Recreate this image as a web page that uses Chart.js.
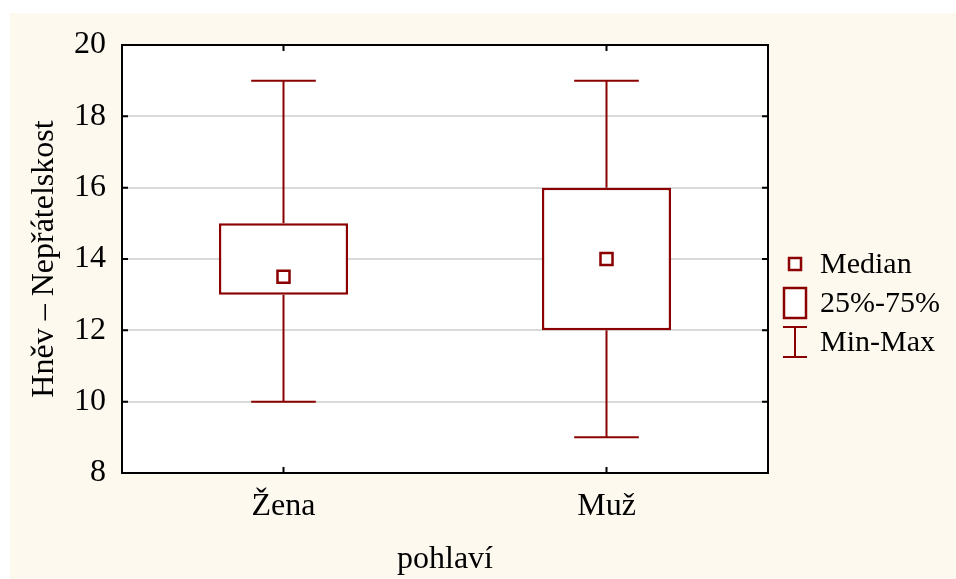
<!DOCTYPE html>
<html>
<head>
<meta charset="utf-8">
<script src="https://cdn.jsdelivr.net/npm/chart.js@4"></script>
<style>
  html, body { margin: 0; padding: 0; background: #ffffff; }
  #wrap { width: 956px; height: 579px; }
</style>
</head>
<body>
<div id="wrap"><canvas id="chart" width="956" height="579"></canvas></div>
<script>
const categories = ['Žena', 'Muž'];
const mins = [10, 9];
const q1s = [13, 12];
const medians = [13.5, 14];
const q3s = [15, 16];
const maxs = [19, 19];
const y_min = 8;
const y_max = 20;
const y_step = 2;
const legend_labels = ['Median', '25%-75%', 'Min-Max'];
const x_title = 'pohlaví';
const y_title = 'Hněv – Nepřátelskost';

const dark_red = '#8b0000';
const cream = '#fdf9ef';
const serif = '"Liberation Serif", "DejaVu Serif", serif';

// background, white plot area
const background_plugin = {
    id: 'background',
    beforeDraw(chart) {
        const ctx = chart.ctx;
        const a = chart.chartArea;
        ctx.save();
        ctx.fillStyle = '#ffffff';
        ctx.fillRect(0, 0, chart.width, chart.height);
        ctx.fillStyle = cream;
        ctx.fillRect(10, 13, chart.width - 10, chart.height - 13);
        ctx.fillStyle = '#ffffff';
        ctx.fillRect(a.left, a.top, a.right - a.left, a.bottom - a.top);
        ctx.restore();
    }
};

// whiskers min-q1 and q3-max with caps
const whisker_plugin = {
    id: 'whiskers',
    beforeDatasetsDraw(chart) {
        const ctx = chart.ctx;
        const y = chart.scales.y;
        const meta = chart.getDatasetMeta(0);
        ctx.save();
        ctx.strokeStyle = dark_red;
        ctx.lineWidth = 2;
        meta.data.forEach((bar, i) => {
            const x = bar.x;
            const half_cap = bar.width / 4;
            const y_lo = y.getPixelForValue(mins[i]);
            const y_hi = y.getPixelForValue(maxs[i]);
            ctx.beginPath();
            ctx.moveTo(x, y_lo);
            ctx.lineTo(x, y.getPixelForValue(q1s[i]));
            ctx.moveTo(x, y.getPixelForValue(q3s[i]));
            ctx.lineTo(x, y_hi);
            ctx.moveTo(x - half_cap, y_lo);
            ctx.lineTo(x + half_cap, y_lo);
            ctx.moveTo(x - half_cap, y_hi);
            ctx.lineTo(x + half_cap, y_hi);
            ctx.stroke();
        });
        ctx.restore();
    }
};

// frame, inward ticks and legend
const frame_plugin = {
    id: 'frame',
    afterDraw(chart) {
        const ctx = chart.ctx;
        const a = chart.chartArea;
        const x = chart.scales.x;
        const y = chart.scales.y;
        ctx.save();
        ctx.strokeStyle = '#000000';
        ctx.lineWidth = 2;
        ctx.strokeRect(a.left, a.top, a.right - a.left, a.bottom - a.top);
        ctx.beginPath();
        y.ticks.forEach(t => {
            const py = y.getPixelForValue(t.value);
            ctx.moveTo(a.left, py);
            ctx.lineTo(a.left + 6, py);
            ctx.moveTo(a.right, py);
            ctx.lineTo(a.right - 6, py);
        });
        categories.forEach((c, i) => {
            const px = x.getPixelForValue(i);
            ctx.moveTo(px, a.bottom);
            ctx.lineTo(px, a.bottom - 6);
            ctx.moveTo(px, a.top);
            ctx.lineTo(px, a.top + 6);
        });
        ctx.stroke();

        // legend
        const lx = 795;
        const rows = [264, 303, 342];
        ctx.strokeStyle = dark_red;
        ctx.lineWidth = 2.5;
        ctx.fillStyle = '#ffffff';
        ctx.fillRect(lx - 6, rows[0] - 6, 12, 12);
        ctx.strokeRect(lx - 6, rows[0] - 6, 12, 12);
        ctx.fillRect(lx - 11, rows[1] - 15, 22, 30);
        ctx.strokeRect(lx - 11, rows[1] - 15, 22, 30);
        ctx.lineWidth = 2;
        ctx.beginPath();
        ctx.moveTo(lx - 12, rows[2] - 15);
        ctx.lineTo(lx + 12, rows[2] - 15);
        ctx.moveTo(lx, rows[2] - 15);
        ctx.lineTo(lx, rows[2] + 15);
        ctx.moveTo(lx - 12, rows[2] + 15);
        ctx.lineTo(lx + 12, rows[2] + 15);
        ctx.stroke();
        ctx.fillStyle = '#000000';
        ctx.font = '30px ' + serif;
        ctx.textBaseline = 'middle';
        ctx.textAlign = 'left';
        legend_labels.forEach((label, i) => {
            ctx.fillText(label, 820, rows[i] + 1);
        });
        ctx.restore();
    }
};

new Chart(document.getElementById('chart'), {
    data: {
        labels: categories,
        datasets: [{
            type: 'bar',
            label: '25%-75%',
            order: 1,
            data: q1s.map((q, i) => [q, q3s[i]]),
            backgroundColor: '#ffffff',
            borderColor: dark_red,
            borderWidth: 2.5,
            borderSkipped: false,
            barPercentage: 0.4,
            categoryPercentage: 1.0
        }, {
            type: 'line',
            label: 'Median',
            order: 0,
            data: medians,
            showLine: false,
            pointStyle: 'rect',
            pointRadius: 8.5,
            pointBackgroundColor: '#ffffff',
            pointBorderColor: dark_red,
            pointBorderWidth: 2.5
        }]
    },
    options: {
        responsive: false,
        animation: false,
        layout: {
            padding: { top: 45, right: 188, left: 0, bottom: 0 }
        },
        plugins: {
            legend: { display: false },
            tooltip: { enabled: false }
        },
        scales: {
            x: {
                grid: { display: false, drawTicks: false },
                border: { display: false },
                ticks: {
                    color: '#000000',
                    font: { family: serif, size: 32 },
                    padding: 14
                },
                title: {
                    display: true,
                    text: x_title,
                    color: '#000000',
                    font: { family: serif, size: 32 },
                    padding: { top: 0, bottom: 0 }
                },
                afterFit(scale) { scale.height = 106; }
            },
            y: {
                min: y_min,
                max: y_max,
                grid: {
                    drawTicks: false,
                    lineWidth: 2,
                    color: ctx => (ctx.tick && (ctx.tick.value === y_min || ctx.tick.value === y_max)) ? 'rgba(0,0,0,0)' : '#d9d9d9'
                },
                border: { display: false },
                ticks: {
                    stepSize: y_step,
                    color: '#000000',
                    font: { family: serif, size: 32 },
                    padding: 16
                },
                title: {
                    display: true,
                    text: y_title,
                    color: '#000000',
                    font: { family: serif, size: 32 },
                    padding: { top: 25, bottom: 0 }
                },
                afterFit(scale) { scale.width = 122; }
            }
        }
    },
    plugins: [background_plugin, whisker_plugin, frame_plugin]
});
</script>
</body>
</html>
